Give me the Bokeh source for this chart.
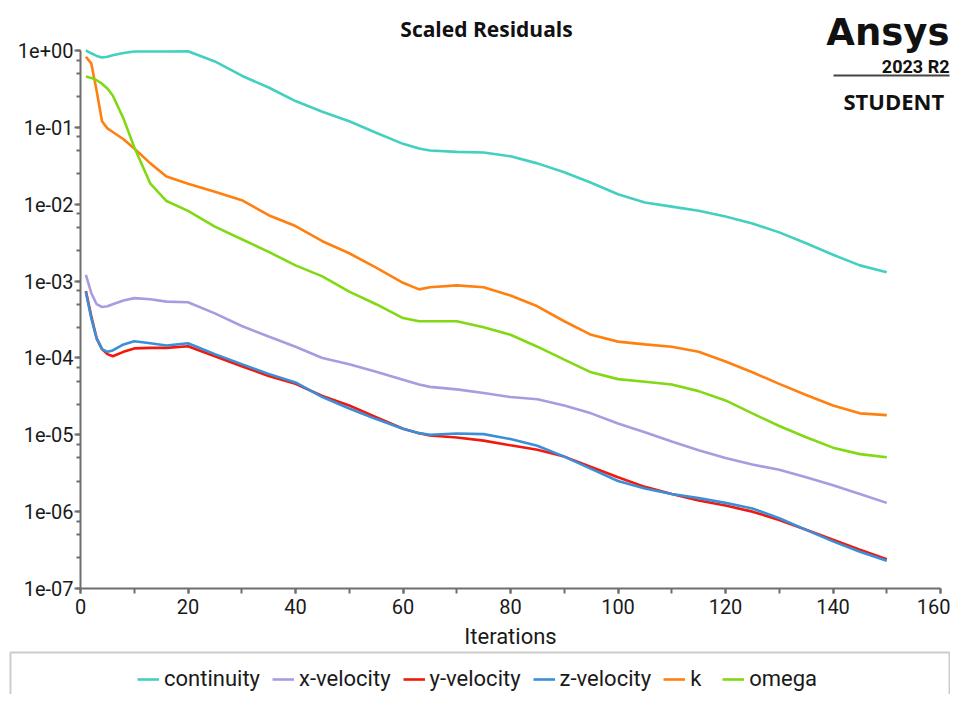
from bokeh.plotting import figure
from bokeh.models import (Range1d, LogTicker, SingleIntervalTicker, CustomJSTickFormatter,
                          Label, BoxAnnotation, Legend, LegendItem)
from bokeh.embed import file_html
from bokeh.resources import INLINE

iterations = [1, 2, 3, 4, 5, 6, 8, 10, 13, 16, 20, 25, 30, 35, 40, 45, 50, 55, 60, 63, 65,
              70, 75, 80, 85, 90, 95, 100, 105, 110, 115, 120, 125, 130, 135, 140, 145, 150]

continuity = [1.0, 0.92, 0.85, 0.81, 0.83, 0.87, 0.93, 0.97, 0.97, 0.97, 0.98, 0.72, 0.47,
              0.33, 0.22, 0.16, 0.12, 0.085, 0.061, 0.053, 0.05, 0.048, 0.047, 0.042, 0.034,
              0.026, 0.019, 0.0135, 0.0105, 0.0093, 0.0082, 0.0069, 0.0056, 0.0043, 0.0031,
              0.0022, 0.0016, 0.0013]

x_velocity = [0.0012, 0.0007, 0.0005, 0.00046, 0.00047, 0.0005, 0.00056, 0.0006, 0.00058,
              0.00054, 0.00053, 0.00038, 0.00026, 0.00019, 0.00014, 0.0001, 8.3e-05, 6.6e-05,
              5.2e-05, 4.5e-05, 4.2e-05, 3.9e-05, 3.5e-05, 3.1e-05, 2.9e-05, 2.4e-05, 1.9e-05,
              1.4e-05, 1.08e-05, 8.2e-06, 6.3e-06, 5.0e-06, 4.1e-06, 3.5e-06, 2.8e-06,
              2.2e-06, 1.7e-06, 1.3e-06]

y_velocity = [0.00074, 0.00035, 0.00018, 0.00013, 0.000112, 0.000105, 0.00012, 0.000133,
              0.000135, 0.000135, 0.000142, 0.000105, 7.8e-05, 5.8e-05, 4.6e-05, 3.2e-05,
              2.4e-05, 1.7e-05, 1.2e-05, 1.05e-05, 9.8e-06, 9.2e-06, 8.4e-06, 7.3e-06,
              6.4e-06, 5.2e-06, 3.8e-06, 2.8e-06, 2.1e-06, 1.7e-06, 1.4e-06, 1.2e-06,
              1.0e-06, 7.8e-07, 5.8e-07, 4.3e-07, 3.2e-07, 2.4e-07]

z_velocity = [0.00072, 0.00033, 0.00018, 0.00013, 0.00012, 0.000125, 0.00015, 0.000165,
              0.000155, 0.000145, 0.000155, 0.000112, 8.3e-05, 6.2e-05, 4.8e-05, 3.1e-05,
              2.2e-05, 1.6e-05, 1.2e-05, 1.05e-05, 1.0e-05, 1.04e-05, 1.02e-05, 8.8e-06,
              7.2e-06, 5.2e-06, 3.6e-06, 2.5e-06, 2.0e-06, 1.7e-06, 1.5e-06, 1.3e-06,
              1.1e-06, 8.2e-07, 5.8e-07, 4.1e-07, 3.0e-07, 2.3e-07]

k = [0.83, 0.68, 0.3, 0.12, 0.097, 0.087, 0.07, 0.053, 0.034, 0.023, 0.0185, 0.0145, 0.0113,
     0.0072, 0.0052, 0.0033, 0.0023, 0.0015, 0.00095, 0.00078, 0.00083, 0.00088, 0.00083,
     0.00065, 0.00047, 0.0003, 0.0002, 0.000163, 0.00015, 0.00014, 0.00012, 9.0e-05,
     6.5e-05, 4.6e-05, 3.3e-05, 2.4e-05, 1.9e-05, 1.8e-05]

omega = [0.46, 0.44, 0.41, 0.37, 0.32, 0.26, 0.13, 0.055, 0.0185, 0.011, 0.0082, 0.0051,
         0.0035, 0.0024, 0.0016, 0.00115, 0.00073, 0.0005, 0.00033, 0.0003, 0.0003, 0.0003,
         0.00025, 0.0002, 0.00014, 9.5e-05, 6.5e-05, 5.3e-05, 4.9e-05, 4.5e-05, 3.7e-05,
         2.8e-05, 1.9e-05, 1.3e-05, 9.3e-06, 6.8e-06, 5.6e-06, 5.1e-06]

series_names = ["continuity", "x-velocity", "y-velocity", "z-velocity", "k", "omega"]
series_values = [continuity, x_velocity, y_velocity, z_velocity, k, omega]
series_colors = ["#43d0c0", "#a99be0", "#f2180c", "#3a8fd8", "#ff8010", "#80d912"]

x_start, x_end = 0, 160
y_start, y_end = 1e-7, 1.0

W, H = 950, 694
font = "Roboto"

# The frame covers the whole canvas so title, logo and the legend box are not clipped.
# Axes are pinned at the data origin with fixed_location and trimmed with bounds.
p = figure(width=W, height=H, output_backend="svg", toolbar_location=None,
           y_axis_type="log",
           x_range=Range1d(-14.884, 161.86), y_range=Range1d(4.176e-9, 4.473),
           min_border_left=0, min_border_right=0, min_border_top=0, min_border_bottom=0)
p.outline_line_color = None
p.grid.visible = False
p.background_fill_color = "white"
p.border_fill_color = "white"

renderers = []
for name, vals, col in zip(series_names, series_values, series_colors):
    r = p.line(iterations, vals, line_color=col, line_width=2.6)
    renderers.append((name, r))

for ax in (p.xaxis[0], p.yaxis[0]):
    ax.axis_line_color = "#6e6e6e"
    ax.axis_line_width = 2
    ax.major_tick_line_color = "#6e6e6e"
    ax.minor_tick_line_color = "#6e6e6e"
    ax.major_tick_line_width = 2
    ax.minor_tick_line_width = 2
    ax.major_tick_in = 0
    ax.minor_tick_in = 0
    ax.major_label_text_font = font
    ax.major_label_text_font_size = "20px"
    ax.major_label_text_color = "#1a1a1a"

p.xaxis.fixed_location = y_start
p.yaxis.fixed_location = x_start
p.xaxis.bounds = (x_start, x_end)
p.yaxis.bounds = (y_start, y_end)
p.xaxis.major_tick_out = 5
p.xaxis.minor_tick_out = 5
p.yaxis.major_tick_out = 6
p.yaxis.minor_tick_out = 4

p.xaxis.ticker = SingleIntervalTicker(interval=20, num_minor_ticks=2)
p.xaxis.axis_label = "Iterations"
p.xaxis.axis_label_text_font = font
p.xaxis.axis_label_text_font_style = "normal"
p.xaxis.axis_label_text_font_size = "22px"
p.xaxis.axis_label_text_color = "#1a1a1a"
p.xaxis.major_label_standoff = 6
p.xaxis.axis_label_standoff = 6

p.yaxis.ticker = LogTicker(num_minor_ticks=4)
p.yaxis.formatter = CustomJSTickFormatter(code="""
const s = tick.toExponential(0);
return s.replace(/e([+-])(\\d)$/, 'e$10$2');
""")
p.yaxis.major_label_standoff = 1

canvas = dict(x_units="canvas", y_units="canvas")
# title
p.add_layout(Label(x=486, y=28, text="Scaled Residuals", text_font="Open Sans",
                   text_font_style="bold", text_font_size="21px", text_align="center",
                   text_baseline="alphabetic", text_color="#111111", **canvas))
# logo
p.add_layout(Label(x=949, y=32, text="Ansys", text_font="DejaVu Sans",
                   text_font_style="bold", text_font_size="37px", text_align="right",
                   text_baseline="alphabetic", text_color="#111111", **canvas))
p.add_layout(Label(x=949, y=66, text="2023 R2", text_font=font, text_font_style="bold",
                   text_font_size="18px", text_align="right", text_baseline="alphabetic",
                   text_color="#111111", **canvas))
p.add_layout(BoxAnnotation(left=833, right=949, top=74, bottom=76, left_units="canvas",
                           right_units="canvas", top_units="canvas", bottom_units="canvas",
                           fill_color="#444444", fill_alpha=1, line_color=None))
p.add_layout(Label(x=843, y=100, text="STUDENT", text_font="Open Sans",
                   text_font_style="bold", text_font_size="22px", text_align="left",
                   text_baseline="alphabetic", text_color="#111111", **canvas))

# legend frame (its lower edge lies below the visible page, as in the reference)
p.add_layout(BoxAnnotation(left=10, right=949, top=652, bottom=730, left_units="canvas",
                           right_units="canvas", top_units="canvas", bottom_units="canvas",
                           fill_color=None, fill_alpha=0, line_color="#555555",
                           line_width=2))

legend = Legend(items=[LegendItem(label=n, renderers=[r]) for n, r in renderers],
                orientation="horizontal", location=(137, 3),
                glyph_width=22, glyph_height=20, label_standoff=5, spacing=12,
                label_text_font=font, label_text_font_size="22px",
                label_text_color="#1a1a1a", border_line_color=None,
                background_fill_alpha=0, padding=4, margin=0)
p.add_layout(legend, "center")

open("out.html", "w").write(file_html(p, INLINE))
